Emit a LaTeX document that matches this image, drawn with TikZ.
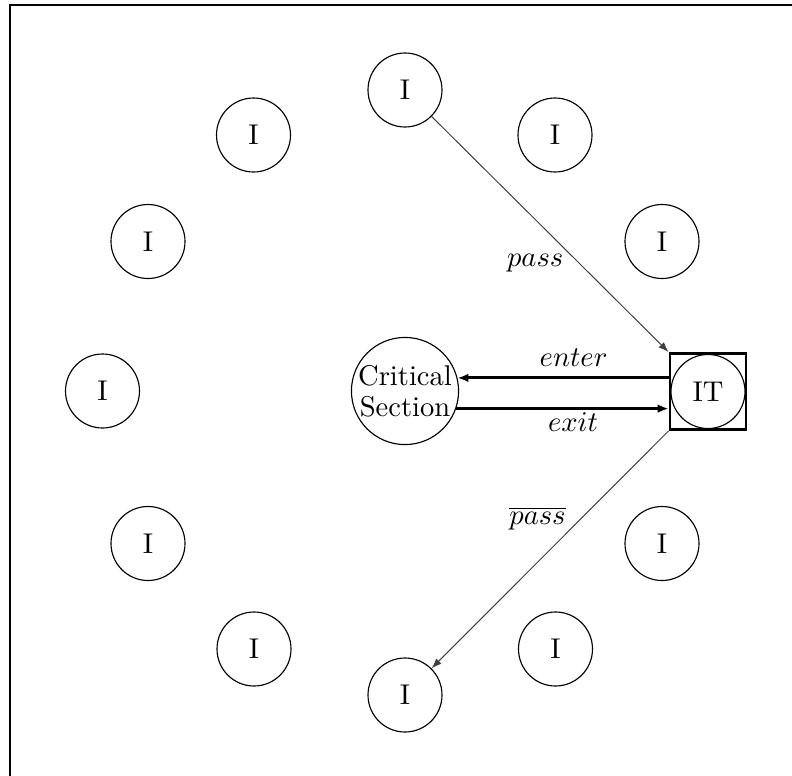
\documentclass[tikz,border=0pt]{standalone}
\usetikzlibrary{arrows.meta}
\begin{document}
\begin{tikzpicture}[x=0.35pt,y=-0.35pt,
  txt/.style={font=\fontsize{10}{11}\selectfont},
  proc/.style={circle,draw,line width=0.4pt,minimum size=25.9pt,inner sep=0pt,txt},
  crit/.style={circle,draw,line width=0.4pt,minimum size=37pt,inner sep=0pt,align=center,txt},
  tokenbox/.style={draw,line width=1pt,minimum size=26.6pt,inner sep=0pt},
  bigarrow/.style={line width=1pt,-{Latex[length=3.8pt,width=3pt]}},
  thinarrow/.style={line width=0.35pt,draw=black!75,-{Latex[length=3.6pt,width=2.6pt]}},
  lbl/.style={txt,inner sep=1pt}
]
\useasboundingbox (0,0) rectangle (792,776);
% frame (top and left edges)
\draw[line width=0.8pt] (10,776) -- (10,5) -- (792,5);

% ring of processes
\node[proc] (p0)  at (405,90)    {I};
\node[proc] (p1)  at (555,135)   {I};
\node[proc] (p2)  at (662,241.5) {I};
\node[proc] (p4)  at (662,543.5) {I};
\node[proc] (p5)  at (555.5,649) {I};
\node[proc] (p6)  at (405,695)   {I};
\node[proc] (p7)  at (254,649)   {I};
\node[proc] (p8)  at (148,543.5) {I};
\node[proc] (p9)  at (102.5,391) {I};
\node[proc] (p10) at (148,241.5) {I};
\node[proc] (p11) at (253.5,135) {I};

% token holder and critical section
\node[tokenbox] (sq) at (708,391.5) {};
\node[proc] (it) at (708,391.5) {IT};
\node[crit] (cs) at (405,391) {Critical\\Section};

% enter / exit
\draw[bigarrow] (sq.west |- cs.14) -- (cs.14)
  node[pos=0.45, above, txt] {$enter$};
\draw[bigarrow] (cs.-19) -- (sq.west |- cs.-19)
  node[pos=0.55, below, txt, inner sep=0.8pt] {$exit$};

% token passing
\draw[thinarrow] (p0) -- (sq.north west)
  node[pos=0.57, anchor=north east, lbl] {$pass$};
\draw[thinarrow] (sq.south west) -- (p6)
  node[pos=0.42, anchor=south east, lbl, yshift=-1pt] {$\overline{pass}$};
\end{tikzpicture}
\end{document}
